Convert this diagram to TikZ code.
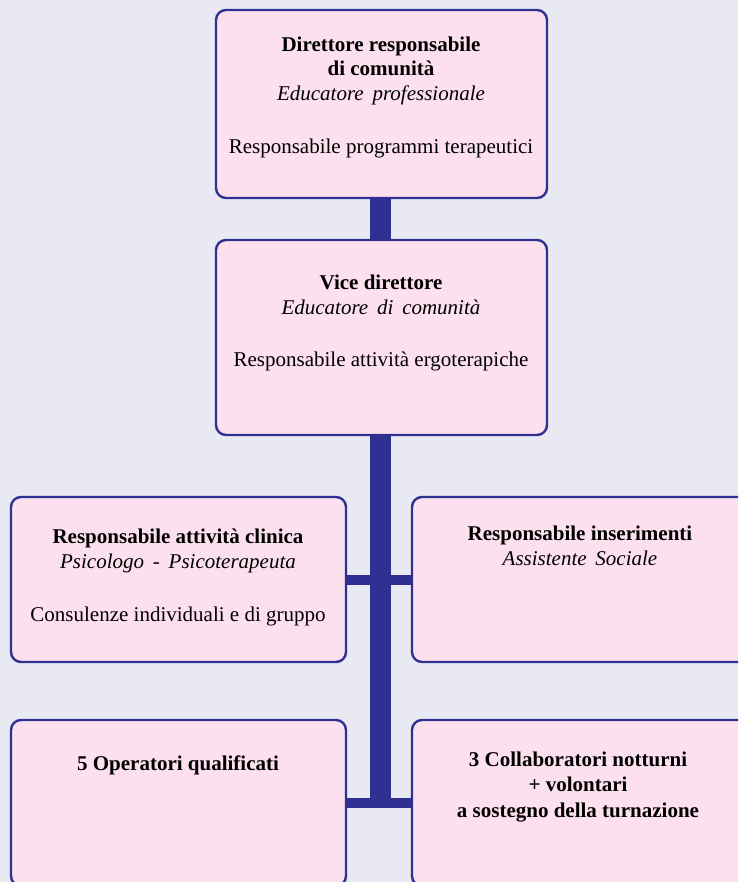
\documentclass[tikz,border=0pt]{standalone}
\usepackage{fontspec}
\setmainfont{Liberation Serif}
\definecolor{bgc}{HTML}{E9E9F3}
\definecolor{boxfill}{HTML}{FCE0EE}
\definecolor{navy}{HTML}{2E3192}
\pgfdeclarelayer{bg}
\pgfdeclarelayer{conn}
\pgfsetlayers{bg,conn,main}
\newcommand\myitfont{\fontsize{21}{25}\selectfont\itshape\spaceskip=0.42em\relax}
\newcommand\mybffont{\fontsize{21}{25}\selectfont\bfseries}
\newcommand\myrmfont{\fontsize{21}{25}\selectfont}
\tikzset{
  box/.style={draw=navy, fill=boxfill, line width=2.4pt, rounded corners=10pt, inner sep=0pt},
  vbar/.style={draw=navy, line width=21pt},
  hbar/.style={draw=navy, line width=10pt},
  txt/.style={anchor=base, inner sep=0pt, font=\myrmfont},
  it/.style={anchor=base, inner sep=0pt, font=\myitfont},
  bf/.style={anchor=base, inner sep=0pt, font=\mybffont},
}
\begin{document}
\begin{tikzpicture}[x=1pt,y=-1pt]
\useasboundingbox (0,0) rectangle (738,882);
\begin{pgfonlayer}{bg}
\fill[bgc] (0,0) rectangle (738,882);
\end{pgfonlayer}
\clip (0,0) rectangle (738,882);
% boxes
\node[box, minimum width=331pt, minimum height=188pt] (b1) at (381.5,104) {};
\node[box, minimum width=331pt, minimum height=195pt] (b2) at (381.5,337.5) {};
\node[box, minimum width=335pt, minimum height=165pt] (b3) at (178.5,579.5) {};
\node[box, minimum width=338pt, minimum height=165pt] (b4) at (581,579.5) {};
\node[box, minimum width=335pt, minimum height=166pt] (b5) at (178.5,803) {};
\node[box, minimum width=338pt, minimum height=166pt] (b6) at (581,803) {};
% connectors
\coordinate (tx) at (380,0);
\coordinate (tend) at (380,802);
\begin{pgfonlayer}{conn}
\draw[vbar] (b1.south -| tx) -- (b2.north -| tx);
\draw[vbar] (b2.south -| tx) -- (tend);
\draw[hbar] (b3.east) -- (b4.west);
\draw[hbar] (b5.east) -- (b6.west);
\end{pgfonlayer}
% texts box 1
\node[bf] (t11) at (381,52) {Direttore responsabile};
\node[bf] (t12) at (381,76) {di comunità};
\node[it] (t13) at (381,101) {Educatore professionale};
\node[txt] (t14) at (381,154) {Responsabile programmi terapeutici};
% box 2
\node[bf] (t21) at (381,289) {Vice direttore};
\node[it] (t22) at (381,314) {Educatore di comunità};
\node[txt] (t23) at (381,366) {Responsabile attività ergoterapiche};
% box 3
\node[bf] (t31) at (178,543) {Responsabile attività clinica};
\node[it] (t32) at (178,568) {Psicologo - Psicoterapeuta};
\node[txt] (t33) at (178,621) {Consulenze individuali e di gruppo};
% box 4
\node[bf] (t41) at (580,540) {Responsabile inserimenti};
\node[it] (t42) at (580,565) {Assistente Sociale};
% box 5
\node[bf] (t51) at (178,770) {5 Operatori qualificati};
% box 6
\node[bf] (t61) at (578,766) {3 Collaboratori notturni};
\node[bf] (t62) at (578,791) {+ volontari};
\node[bf] (t63) at (578,817) {a sostegno della turnazione};
\end{tikzpicture}
\end{document}
